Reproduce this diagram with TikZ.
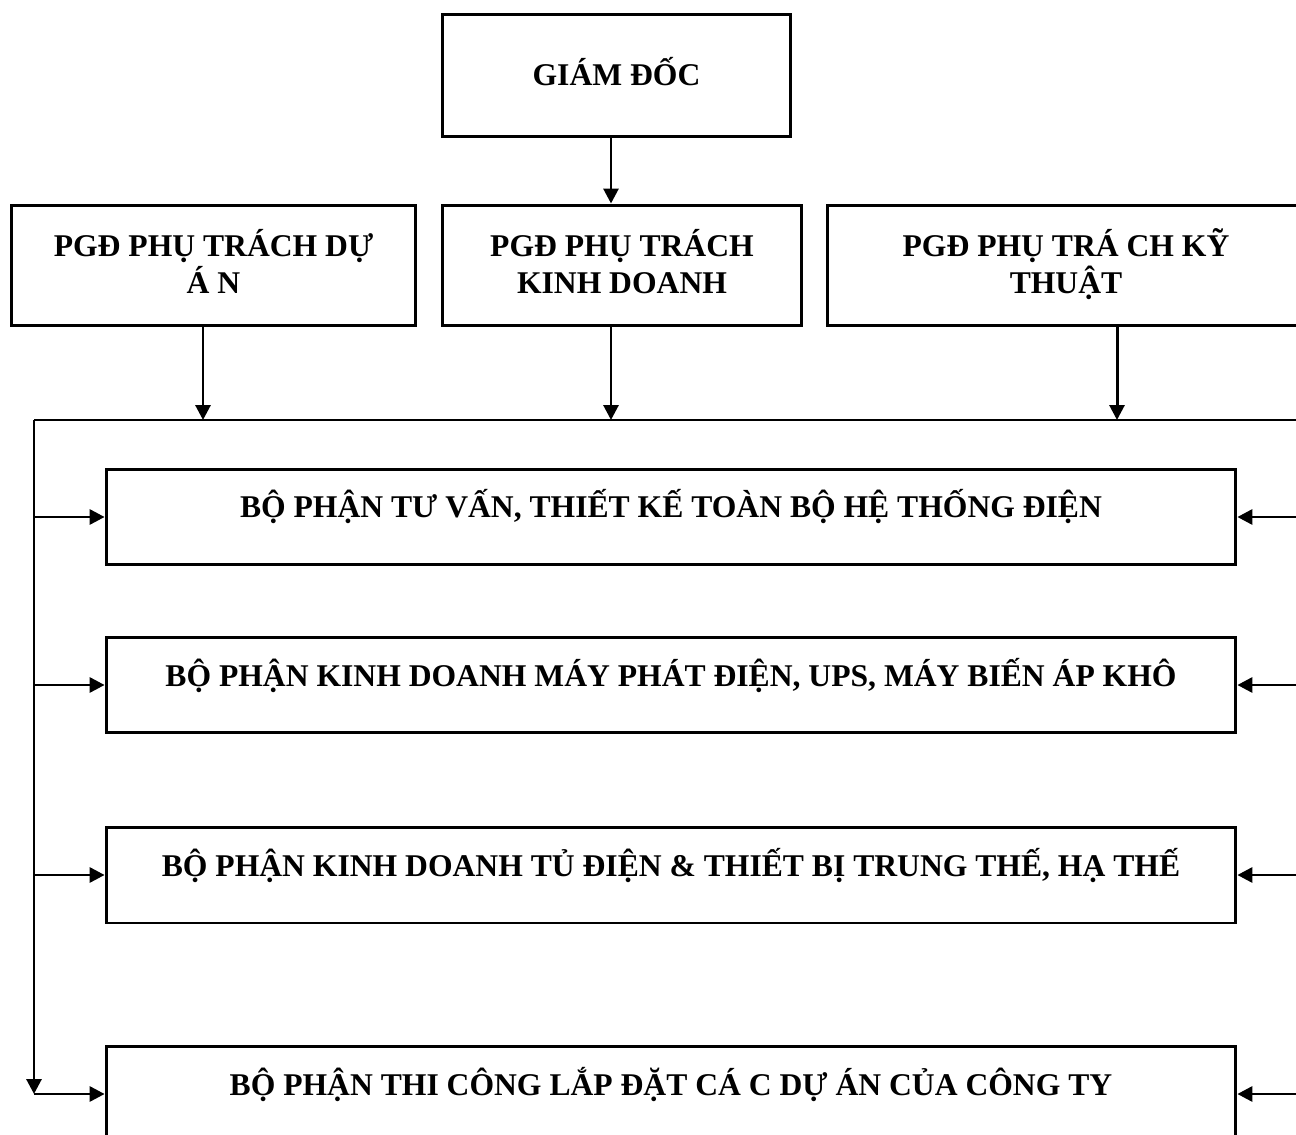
\documentclass[tikz,border=0pt]{standalone}
\usepackage{fontspec}
\setmainfont{Liberation Serif}
\usepackage{tikz}
\usetikzlibrary{arrows.meta}

\begin{document}
\begin{tikzpicture}[x=0.02cm,y=-0.02cm,>={Triangle[length=8.5pt,width=8.5pt]},
	box/.style={draw,rectangle,line width=1.7pt,inner sep=0pt,align=center,
		font=\bfseries\fontsize{18}{21.6}\selectfont},
	link/.style={line width=1.7pt}]
		\useasboundingbox (0,0) rectangle (1296,1135);
		\clip (0,0) rectangle (1296,1135);
		
		% the top boxes
		\node[box,minimum width=6.98cm,text height=1.44cm,text depth=1.02cm] (gd) at (616.5,75.5) {GIÁM ĐỐC};
		\node[box,minimum width=8.10cm,text height=1.78cm,text depth=0.64cm] (pda) at (213.5,265.5) {PGĐ PHỤ TRÁCH DỰ\\Á N};
		\node[box,minimum width=7.20cm,text height=1.78cm,text depth=0.64cm] (pkd) at (622,265.5) {PGĐ PHỤ TRÁCH\\KINH DOANH};
		\node[box,minimum width=9.56cm,text height=1.78cm,text depth=0.64cm] (pkt) at (1066,265.5) {PGĐ PHỤ TRÁ CH KỸ\\THUẬT};
		
		% the departments
		\node[box,minimum width=22.6cm,text height=0.98cm,text depth=0.94cm] (tv) at (671,517) {BỘ PHẬN TƯ VẤN, THIẾT KẾ TOÀN BỘ HỆ THỐNG ĐIỆN};
		\node[box,minimum width=22.6cm,text height=0.98cm,text depth=0.94cm] (mp) at (671,685) {BỘ PHẬN KINH DOANH MÁY PHÁT ĐIỆN, UPS, MÁY BIẾN ÁP KHÔ};
		\node[box,minimum width=22.6cm,text height=0.98cm,text depth=0.94cm] (td) at (671,875) {BỘ PHẬN KINH DOANH TỦ ĐIỆN \& THIẾT BỊ TRUNG THẾ, HẠ THẾ};
		\node[box,minimum width=22.6cm,text height=0.98cm,text depth=0.94cm] (tc) at (671,1094) {BỘ PHẬN THI CÔNG LẮP ĐẶT CÁ C DỰ ÁN CỦA CÔNG TY};
		
		% the bus
		\coordinate (lt) at (34,420);
		\coordinate (rt) at (1300,420);
		\coordinate (b1) at (203,420);
		\coordinate (b2) at (611,420);
		\coordinate (b3) at (1117,420);
		\coordinate (lb) at (34,1094);
		\draw[link] (lt) -- (rt);
		\draw[link,->] (lt) -- (lb);
		
		% the arrows
		\draw[link,->] (gd.south -| b2) -- (pkd.north -| b2);
		\draw[link,->] (pda.south -| b1) -- (b1);
		\draw[link,->] (pkd.south -| b2) -- (b2);
		\draw[link,->] (pkt.south -| b3) -- (b3);
		\foreach \d in {tv,mp,td,tc} {
			\draw[link,->] (\d.west -| lt) -- (\d.west);
			\draw[link,->] (\d.east -| rt) -- (\d.east);
		}
\end{tikzpicture}
\end{document}
